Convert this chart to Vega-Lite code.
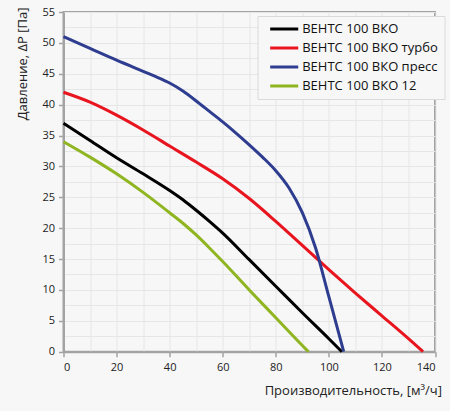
{
  "$schema": "https://vega.github.io/schema/vega-lite/v6.json",
  "width": 371.5,
  "height": 339.7,
  "autosize": {"type": "none"},
  "padding": {"left": 63.5, "top": 12, "right": 15, "bottom": 59.3},
  "background": "#f7f7f7",
  "config": {
    "font": "Open Sans",
    "view": {"stroke": "#a3a3a3", "strokeWidth": 2},
    "axis": {
      "domainColor": "#a3a3a3",
      "domainWidth": 2,
      "gridColor": "#e6e6e6",
      "gridWidth": 1,
      "tickColor": "#a3a3a3",
      "tickWidth": 1.5,
      "tickSize": 5,
      "labelFontSize": 11,
      "labelColor": "#222222",
      "titleFontSize": 13,
      "titleFontWeight": "normal",
      "titleColor": "#222222"
    }
  },
  "data": {
    "values": [
      {"model": "ВЕНТС 100 ВКО", "q": 0, "p": 37},
      {"model": "ВЕНТС 100 ВКО", "q": 10, "p": 34.2},
      {"model": "ВЕНТС 100 ВКО", "q": 20, "p": 31.4},
      {"model": "ВЕНТС 100 ВКО", "q": 30, "p": 28.8},
      {"model": "ВЕНТС 100 ВКО", "q": 40, "p": 26.1},
      {"model": "ВЕНТС 100 ВКО", "q": 45, "p": 24.6},
      {"model": "ВЕНТС 100 ВКО", "q": 50, "p": 22.9},
      {"model": "ВЕНТС 100 ВКО", "q": 55, "p": 21.1},
      {"model": "ВЕНТС 100 ВКО", "q": 60, "p": 19.2},
      {"model": "ВЕНТС 100 ВКО", "q": 70, "p": 14.9},
      {"model": "ВЕНТС 100 ВКО", "q": 80, "p": 10.6},
      {"model": "ВЕНТС 100 ВКО", "q": 90, "p": 6.3},
      {"model": "ВЕНТС 100 ВКО", "q": 100, "p": 2.1},
      {"model": "ВЕНТС 100 ВКО", "q": 104.9, "p": 0},
      {"model": "ВЕНТС 100 ВКО турбо", "q": 0, "p": 42},
      {"model": "ВЕНТС 100 ВКО турбо", "q": 10, "p": 40.4},
      {"model": "ВЕНТС 100 ВКО турбо", "q": 20, "p": 38.3},
      {"model": "ВЕНТС 100 ВКО турбо", "q": 30, "p": 35.9},
      {"model": "ВЕНТС 100 ВКО турбо", "q": 40, "p": 33.3},
      {"model": "ВЕНТС 100 ВКО турбо", "q": 50, "p": 30.7},
      {"model": "ВЕНТС 100 ВКО турбо", "q": 60, "p": 28.0},
      {"model": "ВЕНТС 100 ВКО турбо", "q": 70, "p": 24.8},
      {"model": "ВЕНТС 100 ВКО турбо", "q": 80, "p": 21.1},
      {"model": "ВЕНТС 100 ВКО турбо", "q": 90, "p": 17.2},
      {"model": "ВЕНТС 100 ВКО турбо", "q": 100, "p": 13.3},
      {"model": "ВЕНТС 100 ВКО турбо", "q": 110, "p": 9.5},
      {"model": "ВЕНТС 100 ВКО турбо", "q": 120, "p": 5.8},
      {"model": "ВЕНТС 100 ВКО турбо", "q": 130, "p": 2.1},
      {"model": "ВЕНТС 100 ВКО турбо", "q": 135.5, "p": 0},
      {"model": "ВЕНТС 100 ВКО пресс", "q": 0, "p": 51},
      {"model": "ВЕНТС 100 ВКО пресс", "q": 10, "p": 49.1},
      {"model": "ВЕНТС 100 ВКО пресс", "q": 20, "p": 47.2},
      {"model": "ВЕНТС 100 ВКО пресс", "q": 30, "p": 45.4},
      {"model": "ВЕНТС 100 ВКО пресс", "q": 35, "p": 44.5},
      {"model": "ВЕНТС 100 ВКО пресс", "q": 40, "p": 43.5},
      {"model": "ВЕНТС 100 ВКО пресс", "q": 45, "p": 42.2},
      {"model": "ВЕНТС 100 ВКО пресс", "q": 50, "p": 40.6},
      {"model": "ВЕНТС 100 ВКО пресс", "q": 55, "p": 38.9},
      {"model": "ВЕНТС 100 ВКО пресс", "q": 60, "p": 37.2},
      {"model": "ВЕНТС 100 ВКО пресс", "q": 65, "p": 35.4},
      {"model": "ВЕНТС 100 ВКО пресс", "q": 70, "p": 33.5},
      {"model": "ВЕНТС 100 ВКО пресс", "q": 75, "p": 31.5},
      {"model": "ВЕНТС 100 ВКО пресс", "q": 80, "p": 29.3},
      {"model": "ВЕНТС 100 ВКО пресс", "q": 85, "p": 26.5},
      {"model": "ВЕНТС 100 ВКО пресс", "q": 90, "p": 22.5},
      {"model": "ВЕНТС 100 ВКО пресс", "q": 95, "p": 16.8},
      {"model": "ВЕНТС 100 ВКО пресс", "q": 100, "p": 8.9},
      {"model": "ВЕНТС 100 ВКО пресс", "q": 105.6, "p": 0},
      {"model": "ВЕНТС 100 ВКО 12", "q": 0, "p": 34},
      {"model": "ВЕНТС 100 ВКО 12", "q": 10, "p": 31.5},
      {"model": "ВЕНТС 100 ВКО 12", "q": 20, "p": 28.8},
      {"model": "ВЕНТС 100 ВКО 12", "q": 30, "p": 25.8},
      {"model": "ВЕНТС 100 ВКО 12", "q": 40, "p": 22.5},
      {"model": "ВЕНТС 100 ВКО 12", "q": 45, "p": 20.8},
      {"model": "ВЕНТС 100 ВКО 12", "q": 50, "p": 18.9},
      {"model": "ВЕНТС 100 ВКО 12", "q": 55, "p": 16.8},
      {"model": "ВЕНТС 100 ВКО 12", "q": 60, "p": 14.6},
      {"model": "ВЕНТС 100 ВКО 12", "q": 70, "p": 10.0},
      {"model": "ВЕНТС 100 ВКО 12", "q": 80, "p": 5.5},
      {"model": "ВЕНТС 100 ВКО 12", "q": 90, "p": 1.0},
      {"model": "ВЕНТС 100 ВКО 12", "q": 92.3, "p": 0}
    ]
  },
  "mark": {"type": "line", "interpolate": "monotone", "strokeWidth": 3},
  "encoding": {
    "x": {
      "field": "q",
      "type": "quantitative",
      "scale": {"domain": [0, 140], "nice": false, "zero": false},
      "axis": {
        "title": "Производительность, [м³/ч]",
        "values": [0, 10, 20, 30, 40, 50, 60, 70, 80, 90, 100, 110, 120, 130, 140],
        "labelExpr": "datum.value % 20 === 0 ? datum.label : ''",
        "tickOpacity": {"condition": {"test": "datum.value % 20 === 0", "value": 1}, "value": 0},
        "labelPadding": 5,
        "titleAnchor": "end",
        "titleAlign": "right",
        "titleX": 378,
        "titleY": 39,
        "titleBaseline": "middle"
      }
    },
    "y": {
      "field": "p",
      "type": "quantitative",
      "scale": {"domain": [0, 55], "nice": false},
      "axis": {
        "title": "Давление, ΔP [Па]",
        "values": [0, 2.5, 5, 7.5, 10, 12.5, 15, 17.5, 20, 22.5, 25, 27.5, 30, 32.5, 35, 37.5, 40, 42.5, 45, 47.5, 50, 52.5, 55],
        "labelExpr": "datum.value % 5 === 0 ? datum.label : ''",
        "tickOpacity": {"condition": {"test": "datum.value % 5 === 0", "value": 1}, "value": 0},
        "labelPadding": 4,
        "titleAnchor": "end",
        "titleAlign": "right",
        "titleX": -41,
        "titleY": -5,
        "titleBaseline": "middle"
      }
    },
    "color": {
      "field": "model",
      "type": "nominal",
      "scale": {
        "domain": ["ВЕНТС 100 ВКО", "ВЕНТС 100 ВКО турбо", "ВЕНТС 100 ВКО пресс", "ВЕНТС 100 ВКО 12"],
        "range": ["#000000", "#e8141e", "#2e3d8f", "#8fb520"]
      },
      "legend": {
        "title": null,
        "orient": "none",
        "legendX": 194,
        "legendY": 4,
        "padding": 6,
        "fillColor": "#f7f7f7",
        "strokeColor": "#dadada",
        "symbolType": "M-2.55,0L2.55,0",
        "symbolSize": 121,
        "symbolStrokeWidth": 3,
        "symbolOffset": 13.7,
        "labelFontSize": 13,
        "labelColor": "#111111",
        "labelOffset": 11,
        "rowPadding": 5,
        "offset": 0
      }
    }
  }
}
